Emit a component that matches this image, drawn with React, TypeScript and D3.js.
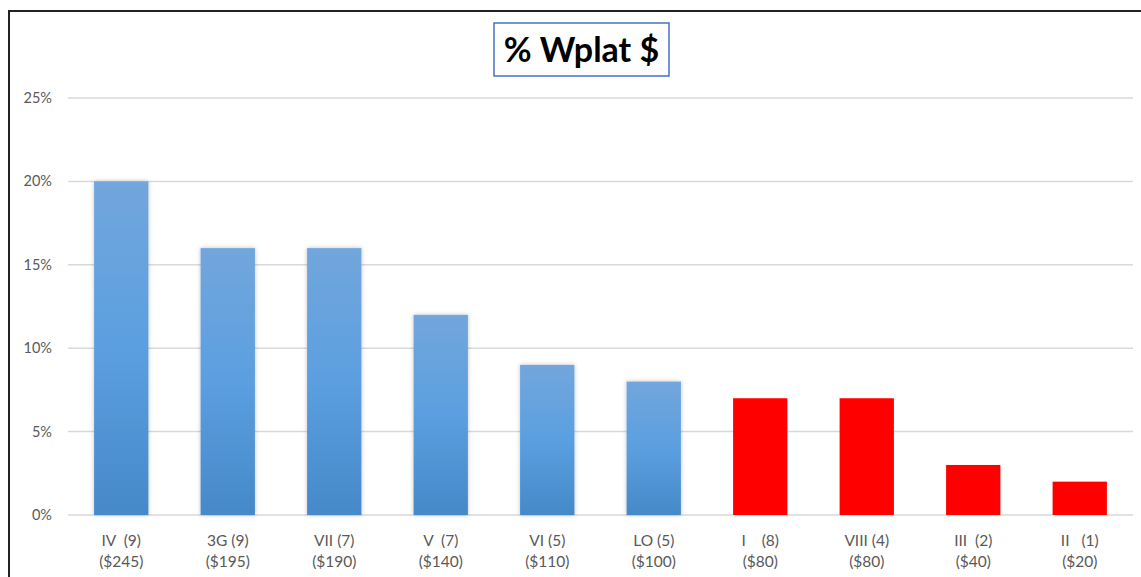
import React from "react";
import * as d3 from "d3";

const categories = ["IV  (9)", "3G (9)", "VII (7)", "V  (7)", "VI (5)", "LO (5)", "I    (8)", "VIII (4)", "III  (2)", "II   (1)"];
const amounts = ["($245)", "($195)", "($190)", "($140)", "($110)", "($100)", "($80)", "($80)", "($40)", "($20)"];
const values = [20, 16, 16, 12, 9, 8, 7, 7, 3, 2];
const highlighted = [false, false, false, false, false, false, true, true, true, true];
const yTicks = [0, 5, 10, 15, 20, 25];
const title = "% Wplat $";

const W = 1141;
const H = 577;
const plotLeft = 68;
const plotRight = 1133;
const plotTop = 98;
const plotBottom = 515;
const font = "Lato, 'Open Sans', 'Liberation Sans', sans-serif";

export default function App() {
  const x = d3
    .scaleBand<string>()
    .domain(categories)
    .range([plotLeft, plotRight])
    .paddingInner(0.49)
    .paddingOuter(0.245);
  const y = d3.scaleLinear().domain([0, 25]).range([plotBottom, plotTop]);

  return (
    <svg
      width={W}
      height={H}
      style={{ position: "absolute", left: 0, top: 0, display: "block", background: "#fff" }}
    >
      <defs>
        <linearGradient id="blueGrad" x1="0" y1="0" x2="0" y2="1">
          <stop offset="0%" stopColor="#72a6dc" />
          <stop offset="50%" stopColor="#5b9fe0" />
          <stop offset="100%" stopColor="#4589c8" />
        </linearGradient>
        <filter id="shadow" x="-20%" y="-5%" width="140%" height="110%">
          <feDropShadow dx="0" dy="0" stdDeviation="2" floodColor="#000" floodOpacity="0.25" />
        </filter>
      </defs>
      <rect x={9} y={11} width={W + 20} height={H + 20} fill="#fff" stroke="#222" strokeWidth={2} />
      {yTicks.map((t) => (
        <g key={t}>
          <line x1={plotLeft} x2={plotRight} y1={y(t)} y2={y(t)} stroke="#d9d9d9" strokeWidth={1.5} />
          <text
            x={52}
            y={y(t)}
            dy="0.35em"
            textAnchor="end"
            fontFamily={font}
            fontSize={14.5}
            fill="#595959"
          >
            {t + "%"}
          </text>
        </g>
      ))}
      {categories.map((c, i) => (
        <rect
          key={c}
          x={x(c)}
          y={y(values[i])}
          width={x.bandwidth()}
          height={y(0) - y(values[i])}
          fill={highlighted[i] ? "#ff0000" : "url(#blueGrad)"}
          filter={highlighted[i] ? undefined : "url(#shadow)"}
        />
      ))}
      {categories.map((c, i) => {
        const cx = (x(c) as number) + x.bandwidth() / 2;
        return (
          <text
            key={c + "l"}
            textAnchor="middle"
            fontFamily={font}
            fontSize={15.5}
            fill="#595959"
            style={{ whiteSpace: "pre" }}
          >
            <tspan x={cx} y={546}>{c}</tspan>
            <tspan x={cx} y={567}>{amounts[i]}</tspan>
          </text>
        );
      })}
      <rect x={494} y={23} width={175} height={53} fill="#fff" stroke="#4472c4" strokeWidth={1.5} />
      <text
        x={581.5}
        y={62}
        textAnchor="middle"
        fontFamily={font}
        fontWeight="bold"
        fontSize={34}
        fill="#000"
      >
        {title}
      </text>
    </svg>
  );
}
